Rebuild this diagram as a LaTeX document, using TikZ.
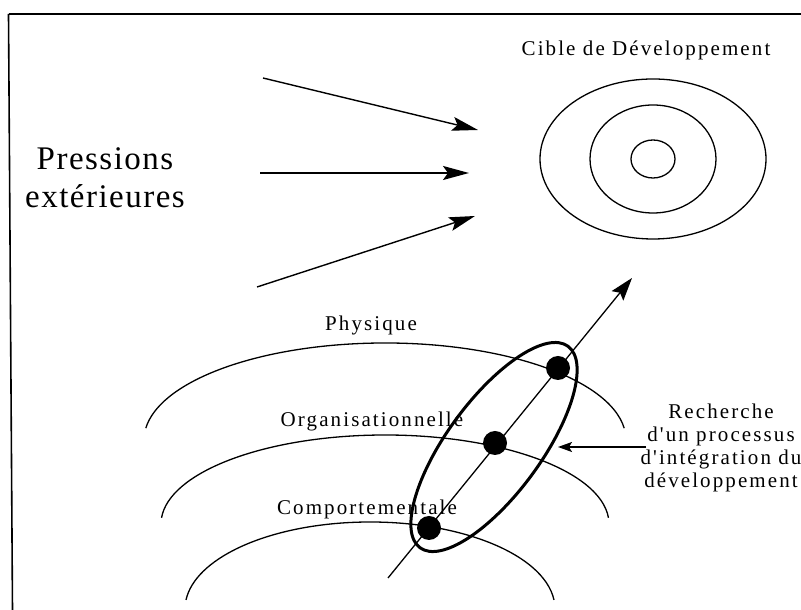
\documentclass[tikz,border=0pt]{standalone}
\usepackage{fontspec}
\setmainfont{Liberation Serif}
\newfontfamily\labfont[LetterSpace=10]{Liberation Serif}
\newfontfamily\bigfont[LetterSpace=4.5]{Liberation Serif}
\usetikzlibrary{arrows.meta}
\begin{document}
\begin{tikzpicture}[x=1pt,y=1pt,
  lab/.style={font=\labfont\fontsize{21}{23}\selectfont, inner sep=0pt},
  big/.style={font=\bigfont\fontsize{33}{38}\selectfont, inner sep=0pt, align=center, anchor=north},
  thinline/.style={line width=1.3pt},
  parrow/.style={line width=1.4pt, -{Stealth[length=26pt,width=14pt,inset=5pt]}},
  uparrow/.style={line width=1.3pt, -{Stealth[length=23pt,width=15pt,inset=4pt]}},
  larrow/.style={line width=1.4pt, -{Stealth[length=14pt,width=10pt,inset=3pt]}},
  dotnode/.style={circle, fill=black, minimum size=24pt, inner sep=0pt},
  frameline/.style={line width=1.6pt},
]
\useasboundingbox (0,0) rectangle (801,610);
% frame
\draw[frameline] (8.5,596) -- (801,596);
\draw[frameline] (8.5,596) -- (12.5,0);

% title and target
\node[lab, anchor=base] (cible) at (646,554) {Cible de Développement};
\coordinate (tc) at (653,451);
\draw[thinline] (tc) ellipse (113 and 80);
\draw[thinline] (tc) ellipse (63 and 54);
\draw[thinline] (tc) ellipse (22 and 19);

% pressures
\node[big] (press) at (105,462.5) {Pressions\\extérieures};
\coordinate (p1s) at (263,532); \coordinate (p1e) at (478,480);
\coordinate (p2s) at (260,437); \coordinate (p2e) at (469,437);
\coordinate (p3s) at (257,323); \coordinate (p3e) at (475,394);
\draw[parrow] (p1s) -- (p1e);
\draw[parrow, line width=1.8pt] (p2s) -- (p2e);
\draw[parrow] (p3s) -- (p3e);

% arcs
\coordinate (a1c) at (385,170);
\coordinate (a2c) at (385,86);
\coordinate (a3c) at (370,1);
\draw[thinline] ([shift={(7:241 and 97)}]a1c) arc[start angle=7,end angle=173,x radius=241,y radius=97];
\draw[thinline] ([shift={(4:224 and 89)}]a2c) arc[start angle=4,end angle=176,x radius=224,y radius=89];
\draw[thinline] ([shift={(6:185 and 87)}]a3c) arc[start angle=6,end angle=174,x radius=185,y radius=87];

\node[lab, anchor=base] (phys) at (371,279) {Physique};
\node[lab, anchor=base] (org) at (372,183) {Organisationnelle};
\node[lab, anchor=base] (comp) at (367,95) {Comportementale};

% development axis
\coordinate (axb) at (388,32);
\coordinate (axt) at (632,332);
\draw[uparrow] (axb) -- (axt);
\node[dotnode] (d1) at (558,242) {};
\node[dotnode] (d2) at (495,167) {};
\node[dotnode] (d3) at (429,82) {};

% integration ellipse
\coordinate (ec) at (494,163);
\draw[line width=3pt, rotate around={53.7:(ec)}] (ec) ellipse (125 and 47);

% label on the right
\node[lab, align=center, anchor=north] (rech) at (721,206.3) {Recherche\\d'un processus\\d'intégration du\\développement};
\coordinate (ls) at (646,163);
\coordinate (le) at (558,163);
\draw[larrow] (ls) -- (le);
\end{tikzpicture}
\end{document}
